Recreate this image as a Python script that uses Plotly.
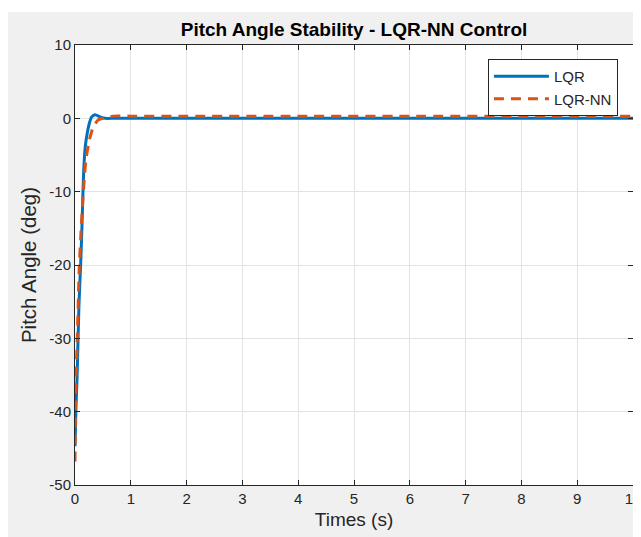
import plotly.graph_objects as go

# LQR response (deg) vs time (s)
t_lqr = [0.0, 0.018, 0.04, 0.07, 0.10, 0.125, 0.143, 0.16, 0.185, 0.22, 0.26, 0.30, 0.36, 0.45, 0.54, 0.7, 1.0, 2.0, 4.0, 6.0, 8.0, 10.0]
y_lqr = [-44.7, -39.3, -34.7, -25.6, -20.2, -14.7, -10.0, -6.5, -3.8, -2.0, -0.6, 0.2, 0.5, 0.2, 0.0, 0.0, 0.0, 0.0, 0.0, 0.0, 0.0, 0.0]

# LQR-NN response (deg) vs time (s)
t_nn = [0.0, 0.012, 0.04, 0.077, 0.113, 0.15, 0.197, 0.26, 0.33, 0.42, 0.54, 0.68, 1.0, 2.0, 4.0, 6.0, 8.0, 10.0]
y_nn = [-46.8, -37.0, -30.2, -20.2, -14.7, -10.0, -5.6, -2.9, -1.1, -0.2, 0.1, 0.3, 0.3, 0.3, 0.3, 0.3, 0.3, 0.3]

x_ticks = [0, 1, 2, 3, 4, 5, 6, 7, 8, 9, 10]
x_ticktext = ["0", "1", "2", "3", "4", "5", "6", "7", "8", "9", "10"]
y_ticks = [-50, -40, -30, -20, -10, 0, 10]
y_ticktext = ["-50", "-40", "-30", "-20", "-10", "0", "10"]

FONT = "Liberation Sans, Arial, Helvetica"
INK = "#262626"

fig = go.Figure()
fig.add_trace(go.Scatter(x=t_lqr, y=y_lqr, mode="lines", name="LQR",
                         line=dict(color="#0072BD", width=3, shape="spline", smoothing=0.6)))
fig.add_trace(go.Scatter(x=t_nn, y=y_nn, mode="lines", name="LQR-NN",
                         line=dict(color="#D95319", width=3, dash="10px,7px", shape="spline", smoothing=0.6)))

axis_common = dict(showline=True, linecolor=INK, linewidth=1, mirror="ticks",
                   ticks="inside", ticklen=5, tickcolor=INK,
                   showgrid=True, gridcolor="#e3e3e3", gridwidth=1, zeroline=False,
                   ticklabeloverflow="allow", automargin=False,
                   tickfont=dict(family=FONT, size=15, color=INK))

fig.update_xaxes(range=[0, 10], tickvals=x_ticks, ticktext=x_ticktext, **axis_common,
                 title=dict(text="Times (s)", standoff=6,
                            font=dict(family=FONT, size=19, color=INK)))
fig.update_yaxes(range=[-50, 10], tickvals=y_ticks, ticktext=y_ticktext, **axis_common,
                 title=dict(text="Pitch Angle (deg)", standoff=7,
                            font=dict(family=FONT, size=20.5, color=INK)))

W, H = 633, 529
fig.update_layout(
    width=W, height=H,
    margin=dict(l=67, r=8, t=37, b=52, autoexpand=False),
    paper_bgcolor="#f0f0f0", plot_bgcolor="white",
    title=dict(text="<b>Pitch Angle Stability - LQR-NN Control</b>", x=0.5, xref="paper",
               xanchor="center", y=1 - 21.5 / H, yanchor="middle",
               font=dict(family=FONT, size=19, color="#000000")),
    legend=dict(x=0.973, y=0.968, xanchor="right", yanchor="top",
                bgcolor="white", bordercolor=INK, borderwidth=1,
                font=dict(family=FONT, size=15, color=INK),
                tracegroupgap=0, itemwidth=55),
    showlegend=True,
    shapes=[
        dict(type="rect", xref="paper", yref="paper", x0=-0.3, x1=1.2, y0=(485 - 12) / 440, y1=1.3,
             fillcolor="white", line=dict(width=0), layer="above"),
    ],
)

fig.write_html("out.html")
